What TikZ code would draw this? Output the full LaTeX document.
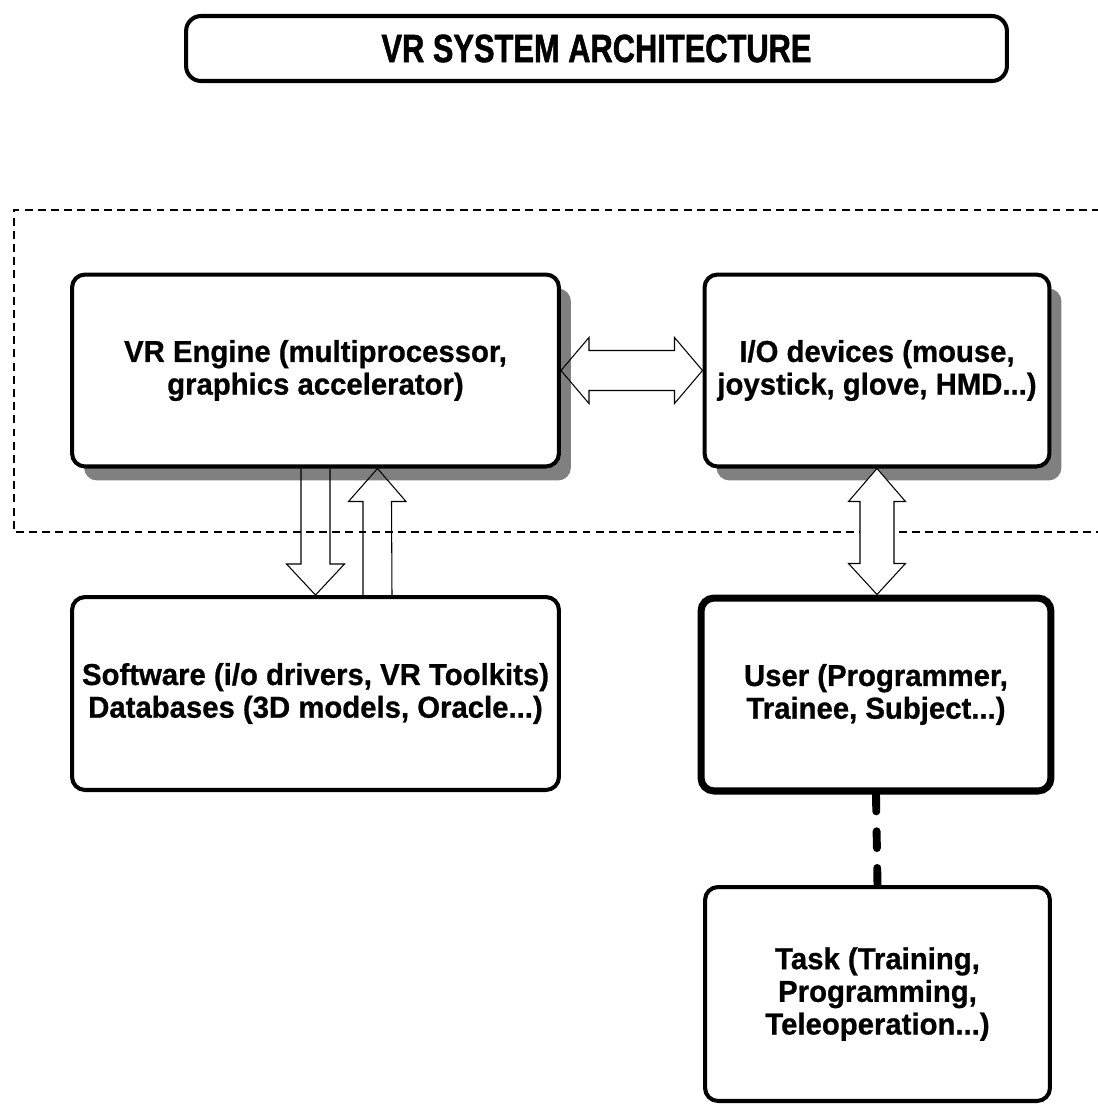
\documentclass[tikz,border=0pt]{standalone}
\usepackage{fontspec}
\setmainfont{Liberation Sans}
\newfontfamily\titlefont[FakeStretch=0.78,FakeBold=1.2]{Liberation Sans}
\newfontfamily\boxfont[FakeStretch=0.97,FakeBold=0.8]{Liberation Sans}
\usepackage{tikz}
\usetikzlibrary{calc,shadows}

\begin{document}
\begin{tikzpicture}[
  x=0.02cm, y=-0.02cm,
  every node/.style={draw, line width=2.3pt, rounded corners=0.26cm, fill=white, align=center, inner sep=0pt,
    font=\boxfont\bfseries\fontsize{17.2}{18.6}\selectfont},
  shade/.style={drop shadow={shadow xshift=0.24cm, shadow yshift=-0.28cm, fill=black!50, opacity=1}},
  thick box/.style={line width=4pt},
  fat/.style={draw, line width=0.6pt},
  frame/.style={line width=1.1pt, dash pattern=on 4.5pt off 3pt}
]
\useasboundingbox (0,0) rectangle (1098,1110);

% enclosure, open to the right
\draw[frame] (1100,210) -- (14,210) -- (14,532) -- (1100,532);

\node (title) at (596.5,48.5) [minimum width=16.42cm, minimum height=1.3cm, rounded corners=0.3cm,
  font=\titlefont\bfseries\fontsize{22.5}{24}\selectfont] {VR SYSTEM ARCHITECTURE};

\node (vr) at (315.5,370.5) [shade, minimum width=9.74cm, minimum height=3.84cm]
  {VR Engine (multiprocessor,\\ graphics accelerator)};
\node (io) at (877,370.5) [shade, minimum width=6.9cm, minimum height=3.84cm]
  {I/O devices (mouse,\\ joystick, glove, HMD...)};
\node (sw) at (315.5,693.5) [minimum width=9.74cm, minimum height=3.86cm]
  {Software (i/o drivers, VR Toolkits)\\ Databases (3D models, Oracle...)};
\node (user) at (876,694.5) [thick box, minimum width=7cm, minimum height=3.86cm]
  {User (Programmer,\\ Trainee, Subject...)};
\node (task) at (877.5,994) [minimum width=6.9cm, minimum height=4.28cm]
  {Task (Training,\\ Programming,\\ Teleoperation...)};

% engine <-> devices
\draw[fat] (vr.east) -- ++(28,-33) -- ++(0,13) -- ($(io.west)+(-28,-20)$) -- ++(0,-13) -- (io.west)
  -- ++(-28,33) -- ++(0,-13) -- ($(vr.east)+(28,20)$) -- ++(0,13) -- cycle;

% engine -> software
\draw[fat] ($(vr.south)+(-14.5,0)$) -- ($(sw.north)+(-14.5,-31)$) -- ++(-14.5,0) -- (sw.north)
  -- ++(29,-31) -- ++(-14.5,0) -- ($(vr.south)+(14.5,0)$);
% software -> engine
\draw[fat] ($(sw.north)+(47.5,0)$) -- ($(vr.south)+(47.5,33)$) -- ++(-14.5,0) -- ($(vr.south)+(62,0)$)
  -- ++(28.5,33) -- ++(-14.5,0) -- ($(sw.north)+(76.5,0)$);

% devices <-> user
\draw[fat, fill=white] (io.south) -- ++(28.5,33) -- ++(-11.5,0) -- ($(io.south |- user.north)+(17,-31)$)
  -- ++(11.5,0) -- (io.south |- user.north) -- ++(-28.5,-31) -- ++(11.5,0) -- ($(io.south)+(-17,33)$)
  -- ++(-11.5,0) -- cycle;

% user - task
\draw[line width=4.5pt, dash pattern=on 9.6pt off 11.3pt, line cap=round] (user.south) -- (task.north);
\end{tikzpicture}
\end{document}
